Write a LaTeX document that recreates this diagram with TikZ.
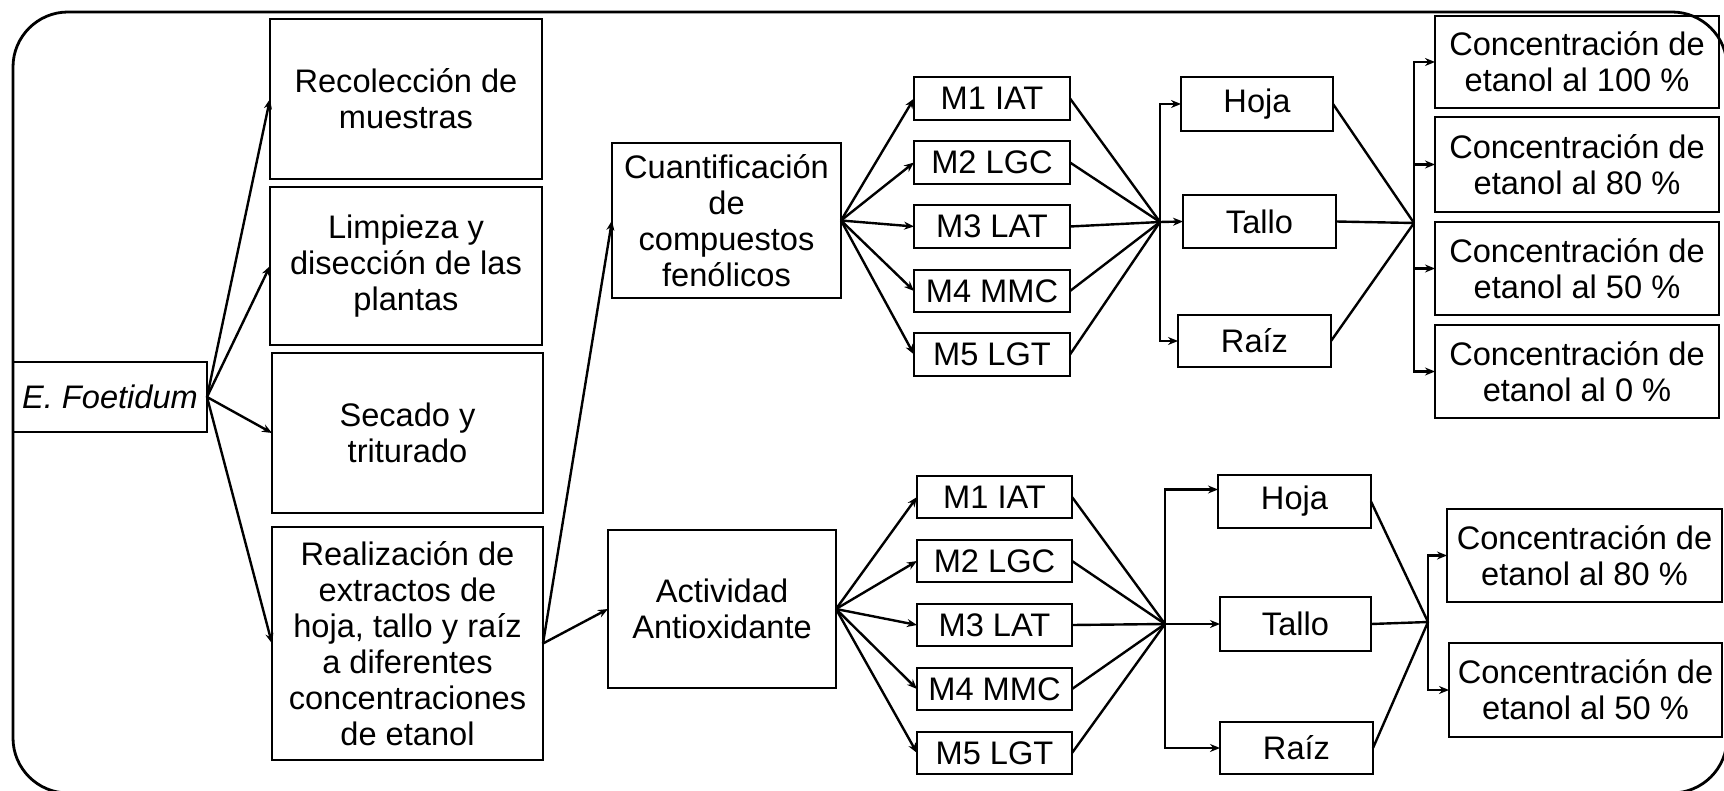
\documentclass[tikz,border=0pt]{standalone}
\usepackage{fontspec}
\setmainfont{Liberation Sans}
\usetikzlibrary{arrows.meta}
\newcommand\pbox[6]{%
  \pgfmathsetmacro\pbW{(#4-#2)*0.5}%
  \pgfmathsetmacro\pbH{(#5-#3)*0.5}%
  \node[box, minimum width=\pbW pt, minimum height=\pbH pt, anchor=north west] (#1) at (#2,#3) {#6};}
\begin{document}
\begin{tikzpicture}[x=0.5pt,y=-0.5pt,
  box/.style={draw, line width=1.4pt, inner sep=0pt, outer sep=0pt, align=center,
    font=\fontsize{16.3}{18}\selectfont},
  con/.style={line width=1.2pt},
  arr/.style={con, -{Stealth[length=5pt,width=4pt]}}]
\useasboundingbox (0,0) rectangle (1724,791);
\begin{scope}
\clip (0,0) rectangle (1724,791);
\draw[line width=1.4pt, rounded corners=27.5pt] (13,12) rectangle (1727,793);
\end{scope}
% left column
\pbox{efo}{13}{362}{207}{432}{\itshape E. Foetidum}
\pbox{rec}{270}{19}{542}{179}{Recolección de\\muestras}
\pbox{lim}{270}{187}{542}{345}{Limpieza y\\disección de las\\plantas}
\pbox{sec}{272}{353}{543}{513}{Secado y\\triturado}
\pbox{rea}{272}{527}{543}{760}{Realización de\\extractos de\\hoja, tallo y raíz\\a diferentes\\concentraciones\\de etanol}
% second column
\pbox{cua}{612}{143}{841}{298}{Cuantificación\\de\\compuestos\\fenólicos}
\pbox{act}{608}{530}{836}{688}{Actividad\\Antioxidante}
% M boxes upper
\pbox{mA1}{914}{77}{1070}{120}{M1 IAT}
\pbox{mA2}{914}{141}{1070}{184}{M2 LGC}
\pbox{mA3}{914}{205}{1070}{248}{M3 LAT}
\pbox{mA4}{914}{270}{1070}{312}{M4 MMC}
\pbox{mA5}{914}{333}{1070}{376}{M5 LGT}
% M boxes lower
\pbox{mB1}{917}{476}{1072}{518}{M1 IAT}
\pbox{mB2}{917}{540}{1072}{582}{M2 LGC}
\pbox{mB3}{917}{604}{1072}{646}{M3 LAT}
\pbox{mB4}{917}{668}{1072}{710}{M4 MMC}
\pbox{mB5}{917}{732}{1072}{774}{M5 LGT}
% plant parts upper
\pbox{hoA}{1181}{77}{1333}{131}{Hoja}
\pbox{taA}{1183}{195}{1336}{248}{Tallo}
\pbox{raA}{1178}{315}{1331}{367}{Raíz}
% plant parts lower
\pbox{hoB}{1218}{475}{1371}{528}{Hoja}
\pbox{taB}{1220}{597}{1371}{651}{Tallo}
\pbox{raB}{1220}{722}{1373}{774}{Raíz}
% concentration upper
\pbox{cA1}{1435}{16}{1719}{108}{Concentración de\\etanol al 100 \%}
\pbox{cA2}{1435}{117}{1719}{212}{Concentración de\\etanol al 80 \%}
\pbox{cA3}{1435}{222}{1719}{315}{Concentración de\\etanol al 50 \%}
\pbox{cA4}{1435}{325}{1719}{418}{Concentración de\\etanol al 0 \%}
% concentration lower
\pbox{cB1}{1447}{509}{1722}{602}{Concentración de\\etanol al 80 \%}
\pbox{cB2}{1449}{643}{1722}{737}{Concentración de\\etanol al 50 \%}
% junctions
\coordinate (j1) at (1160,222);
\coordinate (k1) at (1414,223);
\coordinate (j2) at (1165,624);
\coordinate (k2) at (1428,622);
% connectors
\foreach \n in {rec,lim,sec,rea} {\draw[arr] (efo.east) -- (\n.west);}
\draw[arr] (rea.east) -- (cua.west);
\draw[arr] (rea.east) -- (act.west);
\foreach \i in {1,...,5} {
  \draw[arr] (cua.east) -- (mA\i.west);
  \draw[con] (mA\i.east) -- (j1);
  \draw[arr] (act.east) -- (mB\i.west);
  \draw[con] (mB\i.east) -- (j2);
}
\draw[arr] (j1) |- (hoA.west);
\draw[arr] (j1) -- (taA.west);
\draw[arr] (j1) |- (raA.west);
\foreach \n in {hoA,taA,raA} {\draw[con] (\n.east) -- (k1);}
\foreach \i in {1,...,4} {\draw[arr] (k1) |- (cA\i.west);}
\draw[arr] (j2) |- ([yshift=6pt]hoB.west);
\draw[arr] (j2) -- (taB.west);
\draw[arr] (j2) |- (raB.west);
\foreach \n in {hoB,taB,raB} {\draw[con] (\n.east) -- (k2);}
\draw[arr] (k2) |- (cB1.west);
\draw[arr] (k2) |- (cB2.west);
\end{tikzpicture}
\end{document}
